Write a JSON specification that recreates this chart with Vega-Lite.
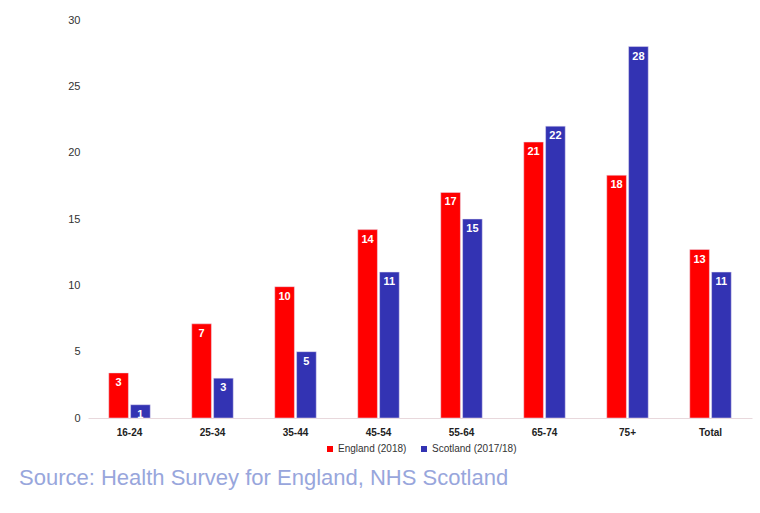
{
  "$schema": "https://vega.github.io/schema/vega-lite/v6.json",
  "width": 664,
  "height": 398,
  "autosize": {"type": "none"},
  "padding": {"left": 88, "top": 20, "right": 8, "bottom": 95},
  "background": "white",
  "config": {
    "view": {"stroke": null},
    "font": "Liberation Sans"
  },
  "title": {
    "text": "Source: Health Survey for England, NHS Scotland",
    "orient": "bottom",
    "anchor": "start",
    "frame": "group",
    "dx": -69,
    "offset": 14,
    "fontSize": 22,
    "fontWeight": "normal",
    "color": "#98A6DC",
    "font": "Liberation Sans"
  },
  "data": {
    "values": [
      {"age": "16-24", "survey": "England (2018)", "value": 3.4},
      {"age": "16-24", "survey": "Scotland (2017/18)", "value": 1},
      {"age": "25-34", "survey": "England (2018)", "value": 7.1},
      {"age": "25-34", "survey": "Scotland (2017/18)", "value": 3},
      {"age": "35-44", "survey": "England (2018)", "value": 9.9},
      {"age": "35-44", "survey": "Scotland (2017/18)", "value": 5},
      {"age": "45-54", "survey": "England (2018)", "value": 14.2},
      {"age": "45-54", "survey": "Scotland (2017/18)", "value": 11},
      {"age": "55-64", "survey": "England (2018)", "value": 17},
      {"age": "55-64", "survey": "Scotland (2017/18)", "value": 15},
      {"age": "65-74", "survey": "England (2018)", "value": 20.8},
      {"age": "65-74", "survey": "Scotland (2017/18)", "value": 22},
      {"age": "75+", "survey": "England (2018)", "value": 18.3},
      {"age": "75+", "survey": "Scotland (2017/18)", "value": 28},
      {"age": "Total", "survey": "England (2018)", "value": 12.7},
      {"age": "Total", "survey": "Scotland (2017/18)", "value": 11}
    ]
  },
  "encoding": {
    "x": {
      "field": "age",
      "type": "nominal",
      "sort": null,
      "scale": {"paddingInner": 0.5, "paddingOuter": 0.25},
      "axis": {
        "title": null,
        "labelAngle": 0,
        "labelFontWeight": "bold",
        "labelFontSize": 10,
        "labelColor": "#222222",
        "labelPadding": 9,
        "ticks": false,
        "domainColor": "#E8D8DC",
        "domainWidth": 1
      }
    },
    "xOffset": {
      "field": "survey",
      "type": "nominal",
      "scale": {"paddingInner": 0.1}
    },
    "y": {
      "field": "value",
      "type": "quantitative",
      "scale": {"domain": [0, 30], "nice": false},
      "axis": {
        "title": null,
        "values": [0, 5, 10, 15, 20, 25, 30],
        "grid": false,
        "domain": false,
        "ticks": false,
        "labelFontSize": 11,
        "labelColor": "#333333",
        "labelPadding": 8
      }
    }
  },
  "layer": [
    {
      "mark": {"type": "bar", "stroke": "#E8E0F0", "strokeWidth": 0.5},
      "encoding": {
        "color": {
          "field": "survey",
          "type": "nominal",
          "scale": {
            "domain": ["England (2018)", "Scotland (2017/18)"],
            "range": ["#FF0000", "#3333B3"]
          },
          "legend": {
            "title": null,
            "orient": "none",
            "legendX": 237,
            "legendY": 424,
            "direction": "horizontal",
            "symbolType": "square",
            "symbolSize": 36,
            "symbolStrokeWidth": 0,
            "labelFontSize": 10,
            "labelColor": "#333333",
            "columnPadding": 12,
            "labelOffset": 3
          }
        }
      }
    },
    {
      "mark": {
        "type": "text",
        "baseline": "top",
        "dy": 4,
        "color": "white",
        "fontWeight": "bold",
        "fontSize": 11
      },
      "encoding": {
        "text": {"field": "value", "type": "quantitative", "format": ".0f"}
      }
    }
  ]
}
